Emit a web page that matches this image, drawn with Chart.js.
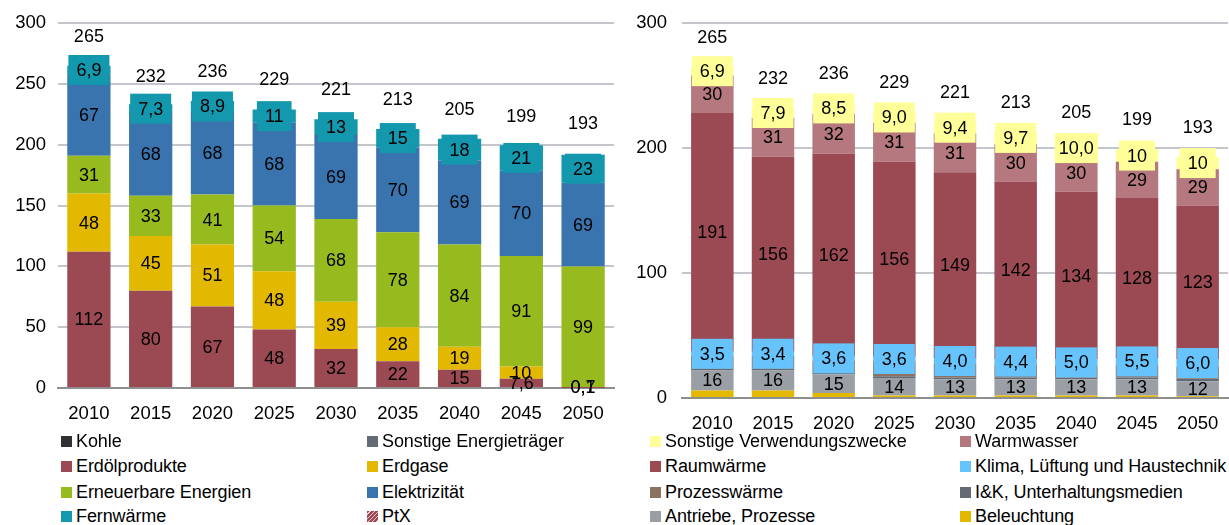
<!DOCTYPE html>
<html>
<head>
<meta charset="utf-8">
<script src="https://cdn.jsdelivr.net/npm/chart.js@4.4.1/dist/chart.umd.min.js"></script>
<style>
  body { margin: 0; width: 1229px; height: 525px; position: relative; background: #fff;
         font-family: "Liberation Sans", Arial, sans-serif; overflow: hidden; }
  .box { position: absolute; }
  .lg { position: absolute; font-size: 18px; color: #000; line-height: 20px; white-space: nowrap; letter-spacing: -0.1px; }
  .lg i { display: inline-block; width: 11px; height: 11px; margin-right: 4px; vertical-align: 0px; }
</style>
</head>
<body>
<div class="box" style="left:0;top:0;width:615px;height:440px"><canvas id="chartLeft"></canvas></div>
<div class="box" style="left:615px;top:-3px;width:614px;height:443px"><canvas id="chartRight"></canvas></div>
<div id="legends"></div>
<script>
// ---------- Daten ----------
const jahre = ["2010", "2015", "2020", "2025", "2030", "2035", "2040", "2045", "2050"];

// links: Endenergie nach Energieträgern
const kohle = [0, 0, 0, 0, 0, 0, 0, 0, 0];
const sonstigeET = [0, 0, 0, 0, 0, 0, 0, 0, 0];
const erdoel = [112, 80, 67, 48, 32, 22, 15, 7.6, 0.1];
const erdgas = [48, 45, 51, 48, 39, 28, 19, 10, 0.7];
const erneuerbar = [31, 33, 41, 54, 68, 78, 84, 91, 99];
const strom = [67, 68, 68, 68, 69, 70, 69, 70, 69];
const fernwaerme = [6.9, 7.3, 8.9, 11, 13, 15, 18, 21, 23];
const ptx = [0, 0, 0, 0, 0, 0, 0, 0, 0];
const summeLinks = [265, 232, 236, 229, 221, 213, 205, 199, 193];

// rechts: Endenergie nach Verwendungszwecken
const beleuchtung = [6, 6, 4, 2, 2, 2, 2, 2, 1.5];
const antriebe = [16, 16, 15, 14, 13, 13, 13, 13, 12];
const iuk = [1.5, 1.5, 1.5, 1.5, 1.5, 1.5, 1.5, 1.5, 2];
const prozesswaerme = [10.1, 10.2, 9.4, 11.9, 11.1, 10.4, 9.5, 10, 9.5];
const klima = [3.5, 3.4, 3.6, 3.6, 4.0, 4.4, 5.0, 5.5, 6.0];
const raumwaerme = [191, 156, 162, 156, 149, 142, 134, 128, 123];
const warmwasser = [30, 31, 32, 31, 31, 30, 30, 29, 29];
const sonstigeVZ = [6.9, 7.9, 8.5, 9.0, 9.4, 9.7, 9.98, 10, 10];
const summeRechts = [265, 232, 236, 229, 221, 213, 205, 199, 193];

const yTicksLinks = [0, 50, 100, 150, 200, 250, 300];
const yTicksRechts = [0, 100, 200, 300];

// ---------- Farben ----------
const C = {
  kohle: "#2e3034",
  sonst: "#656b74",
  erdoel: "#9b4a54",
  erdgas: "#e2b800",
  ee: "#97ba1e",
  strom: "#3a74ae",
  fw: "#1498ae",
  ptx: "#9b4a54",
  svz: "#ffff99",
  ww: "#b4787e",
  klima: "#66c3fb",
  proz: "#8c7263",
  iuk: "#656b74",
  antr: "#9a9ea5",
};

const FONT = '"Liberation Sans", Arial, sans-serif';

function fmt(v) {
  if (v < 10) return v.toFixed(1).replace(".", ",");
  return String(Math.round(v));
}

// Datenbeschriftungen + Summen
const labelPlugin = {
  id: "labels",
  afterDatasetsDraw(chart, args, opts) {
    const ctx = chart.ctx;
    ctx.save();
    ctx.font = "18px " + FONT;
    ctx.textAlign = "center";
    ctx.textBaseline = "middle";
    chart.data.datasets.forEach((ds, i) => {
      if (!ds.showLabel) return;
      const meta = chart.getDatasetMeta(i);
      meta.data.forEach((bar, j) => {
        const txt = fmt(ds.data[j]);
        const cy = (bar.y + bar.base) / 2;
        if (ds.labelBox) {
          const w = Math.min(ctx.measureText(txt).width + 16, bar.width + 1);
          ctx.fillStyle = ds.backgroundColor;
          ctx.fillRect(bar.x - w / 2, cy - 15, w, 30);
        }
        ctx.fillStyle = "#000";
        ctx.fillText(txt, bar.x, cy + 1);
      });
    });
    const xs = chart.scales.x;
    const ys = chart.scales.y;
    ctx.fillStyle = "#000";
    opts.totals.forEach((t, j) => {
      ctx.fillText(String(t), xs.getPixelForValue(j), ys.getPixelForValue(t) - 29);
    });
    ctx.restore();
  },
};

function ds(label, data, color, showLabel, labelBox) {
  return {
    label,
    data,
    backgroundColor: color,
    borderWidth: 0,
    barPercentage: 0.7,
    categoryPercentage: 1,
    showLabel: !!showLabel,
    labelBox: !!labelBox,
  };
}

function optionen(ticks, yWidth, yPad, xHeight, top, totals) {
  return {
    responsive: true,
    maintainAspectRatio: false,
    animation: false,
    layout: { padding: { top, right: 1, left: 0, bottom: 0 } },
    plugins: { legend: { display: false }, tooltip: { enabled: false }, labels: { totals } },
    scales: {
      x: {
        stacked: true,
        grid: { display: false },
        border: { color: "#8e8e8e", width: 2 },
        ticks: { color: "#000", font: { size: 18.5, family: FONT }, padding: 7, maxRotation: 0 },
        afterFit: (s) => { s.height = xHeight; },
      },
      y: {
        stacked: true,
        min: 0,
        max: 300,
        afterBuildTicks: (s) => { s.ticks = ticks.map((v) => ({ value: v })); },
        grid: { color: "#c3c6cb", lineWidth: 2, drawTicks: false },
        border: { display: false },
        ticks: { color: "#000", font: { size: 18.5, family: FONT }, padding: yPad },
        afterFit: (s) => { s.width = yWidth; },
      },
    },
  };
}

new Chart(document.getElementById("chartLeft"), {
  type: "bar",
  data: {
    labels: jahre,
    datasets: [
      ds("Kohle", kohle, C.kohle),
      ds("Sonstige Energieträger", sonstigeET, C.sonst),
      ds("Erdölprodukte", erdoel, C.erdoel, true),
      ds("Erdgase", erdgas, C.erdgas, true),
      ds("Erneuerbare Energien", erneuerbar, C.ee, true),
      ds("Elektrizität", strom, C.strom, true),
      ds("Fernwärme", fernwaerme, C.fw, true, true),
      ds("PtX", ptx, C.ptx),
    ],
  },
  options: optionen(yTicksLinks, 58, 12, 52, 22, summeLinks),
  plugins: [labelPlugin],
});

new Chart(document.getElementById("chartRight"), {
  type: "bar",
  data: {
    labels: jahre,
    datasets: [
      ds("Beleuchtung", beleuchtung, C.erdgas),
      ds("Antriebe, Prozesse", antriebe, C.antr, true),
      ds("I&K, Unterhaltungsmedien", iuk, C.iuk),
      ds("Prozesswärme", prozesswaerme, C.proz),
      ds("Klima, Lüftung und Haustechnik", klima, C.klima, true, true),
      ds("Raumwärme", raumwaerme, C.erdoel, true),
      ds("Warmwasser", warmwasser, C.ww, true),
      ds("Sonstige Verwendungszwecke", sonstigeVZ, C.svz, true, true),
    ],
  },
  options: optionen(yTicksRechts, 67, 15, 42, 22, summeRechts),
  plugins: [labelPlugin],
});

// ---------- Legenden ----------
const legendLinks = [
  ["Kohle", C.kohle], ["Sonstige Energieträger", C.sonst],
  ["Erdölprodukte", C.erdoel], ["Erdgase", C.erdgas],
  ["Erneuerbare Energien", C.ee], ["Elektrizität", C.strom],
  ["Fernwärme", C.fw], ["PtX", "hatch"],
];
const legendRechts = [
  ["Sonstige Verwendungszwecke", C.svz], ["Warmwasser", C.ww],
  ["Raumwärme", C.erdoel], ["Klima, Lüftung und Haustechnik", C.klima],
  ["Prozesswärme", C.proz], ["I&K, Unterhaltungsmedien", C.iuk],
  ["Antriebe, Prozesse", C.antr], ["Beleuchtung", C.erdgas],
];
const zeilen = [431, 456, 482, 506];

function legende(items, xs) {
  const host = document.getElementById("legends");
  items.forEach(([name, col], k) => {
    const d = document.createElement("div");
    d.className = "lg";
    d.style.left = xs[k % 2] + "px";
    d.style.top = zeilen[Math.floor(k / 2)] + "px";
    const sw = document.createElement("i");
    if (col === "hatch") {
      sw.style.background = "repeating-linear-gradient(135deg," + C.ptx + " 0 2px,#e8c8cc 2px 3px)";
    } else {
      sw.style.background = col;
    }
    d.appendChild(sw);
    d.appendChild(document.createTextNode(name));
    host.appendChild(d);
  });
}
legende(legendLinks, [61, 367]);
legende(legendRechts, [650, 960]);
</script>
</body>
</html>
